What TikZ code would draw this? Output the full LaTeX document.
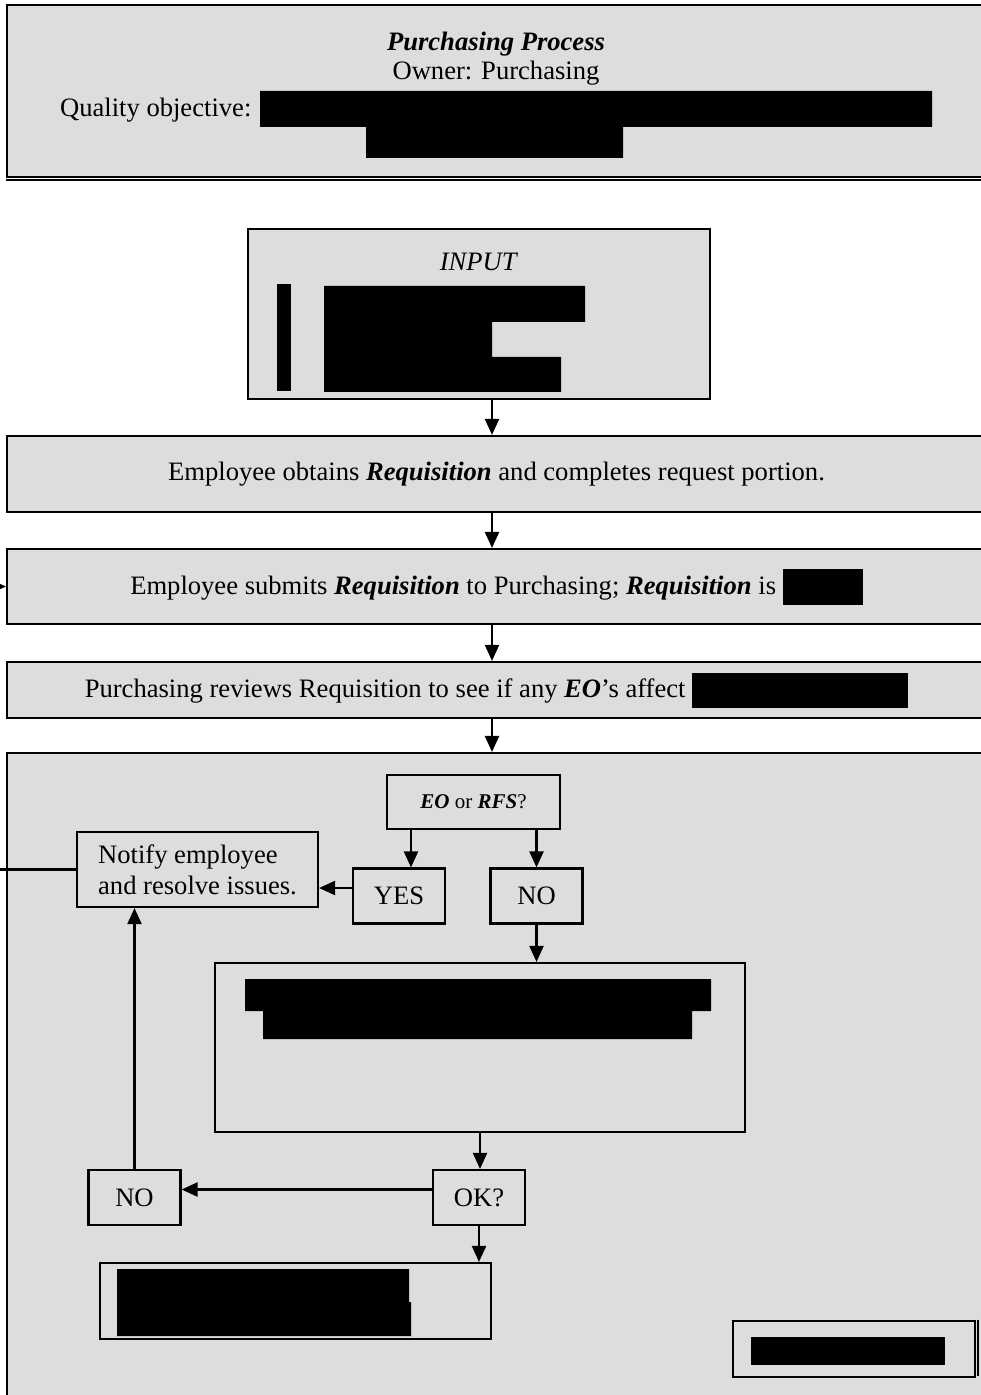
\documentclass[tikz,border=0pt]{standalone}
\usepackage{fontspec}
\setmainfont{Liberation Serif}
\usetikzlibrary{arrows.meta}

\definecolor{boxgray}{RGB}{221,221,221}
\newcommand{\blackout}[2]{\rule[-5pt]{#1}{#2}}
\newcommand{\bi}[1]{\textbf{\textit{#1}}}

\begin{document}
\begin{tikzpicture}[x=0.5pt,y=-0.5pt,line width=1.05pt,
    >={Triangle[length=8pt,width=7pt]},
    font=\fontsize{13.3}{15.5}\selectfont,
    every node/.style={inner sep=0pt},
    stepbox/.style={draw,fill=boxgray,align=center},
    smallbox/.style={stepbox,minimum width=46pt,minimum height=27.5pt}]
   \useasboundingbox (0,0) rectangle (980,1395);
   \fill[white] (0,0) rectangle (980,1395);
   \coordinate (spine) at (492,0);
   \coordinate (yesx)  at (411,0);
   \coordinate (loop)  at (-12,0);

   % header
   \node (head)   at (496.5,91)   [stepbox,minimum width=489.5pt,minimum height=86pt] {};
   \draw[line width=0.8pt] (head.south west) ++(0,2) -- ++(990,0);
   \node (title)  at (496,44)     {\bi{Purchasing Process}};
   \node (owner)  at (496,73)     {Owner: Purchasing};
   \node (qobj)   at (59,110)     [anchor=west] {Quality objective:};
   \fill (260,91) -- (932,91) -- (932,127) -- (623,127) -- (623,158)
         -- (366,158) -- (366,127) -- (260,127) -- cycle;

   % input
   \node (input)  at (479,314)    [stepbox,minimum width=231pt,minimum height=85pt] {};
   \node (inlbl)  at (479,262)    {\textit{INPUT}};
   \fill (277,284) rectangle (291,391);
   \fill (324,286) -- (585,286) -- (585,322) -- (492,322) -- (492,357)
         -- (561,357) -- (561,392) -- (324,392) -- cycle;

   % main steps
   \node (obtain) at (496.5,474)  [stepbox,minimum width=489.5pt,minimum height=38pt]
      {Employee obtains \bi{Requisition} and completes request portion.};
   \node (submit) at (496.5,586.5) [stepbox,minimum width=489.5pt,minimum height=37.5pt]
      {Employee submits \bi{Requisition} to Purchasing; \bi{Requisition} is \blackout{40pt}{18pt}};
   \node (review) at (496.5,690)  [stepbox,minimum width=489.5pt,minimum height=28pt]
      {Purchasing reviews Requisition to see if any \bi{EO}'s affect \blackout{108pt}{17.5pt}};
   \node (decide) at (496.5,1087) [stepbox,minimum width=489.5pt,minimum height=334pt] {};

   % decision part
   \node (eo)     at (473.5,802)  [stepbox,minimum width=86.5pt,minimum height=27pt]
      {\fontsize{10.5}{12}\selectfont\bi{EO} or \bi{RFS}?};
   \node (yes)    at (399,896)    [smallbox] {YES};
   \node (no)     at (536.5,896)  [smallbox] {NO};
   \node (notify) at (197.5,869.5) [stepbox,minimum width=120.5pt,minimum height=37.5pt,align=left]
      {Notify employee\\and resolve issues.};
   \node (check)  at (480,1047.5) [stepbox,minimum width=265pt,minimum height=84.5pt] {};
   \fill (245,979) -- (711,979) -- (711,1011) -- (692,1011) -- (692,1039)
         -- (263,1039) -- (263,1011) -- (245,1011) -- cycle;
   \node (ok)     at (479,1197.5) [smallbox] {OK?};
   \node (notok)  at (134.5,1197.5) [smallbox] {NO};
   \node (done)   at (295.5,1301) [stepbox,minimum width=195.5pt,minimum height=38pt] {};
   \fill (117,1269) -- (409,1269) -- (409,1302) -- (411,1302) -- (411,1336)
         -- (117,1336) -- cycle;
   \node (ref)    at (854,1349)   [stepbox,minimum width=121pt,minimum height=28pt] {};
   \draw[line width=0.8pt] (ref.north east) ++(2,0) -- ++(0,56);
   \fill (751,1337) rectangle (945,1365);

   \draw[->] (input.south -| spine)  to (obtain.north -| spine);
   \draw[->] (obtain.south -| spine) to (submit.north -| spine);
   \draw[->] (submit.south -| spine) to (review.north -| spine);
   \draw[->] (review.south -| spine) to (decide.north -| spine);
   \draw[->] (eo.south -| yesx)      to (yes.north -| yesx);
   \draw[->] (eo.south -| no)        to (no.north);
   \draw[->] ([yshift=4pt]yes.west)  to ([yshift=4pt]yes.west -| notify.east);
   \draw[->] (no.south)              to (no.south |- check.north);
   \draw[->] (check.south)           to (check.south |- ok.north);
   \draw[->] ([yshift=4pt]ok.west)   to ([yshift=4pt]ok.west -| notok.east);
   \draw[->] (notok.north)           to (notok.north |- notify.south);
   \draw[->] (ok.south)              to (ok.south |- done.north);
   \draw[->] (notify.west) -- (notify.west -| loop) |- (submit.west);
\end{tikzpicture}
\end{document}
